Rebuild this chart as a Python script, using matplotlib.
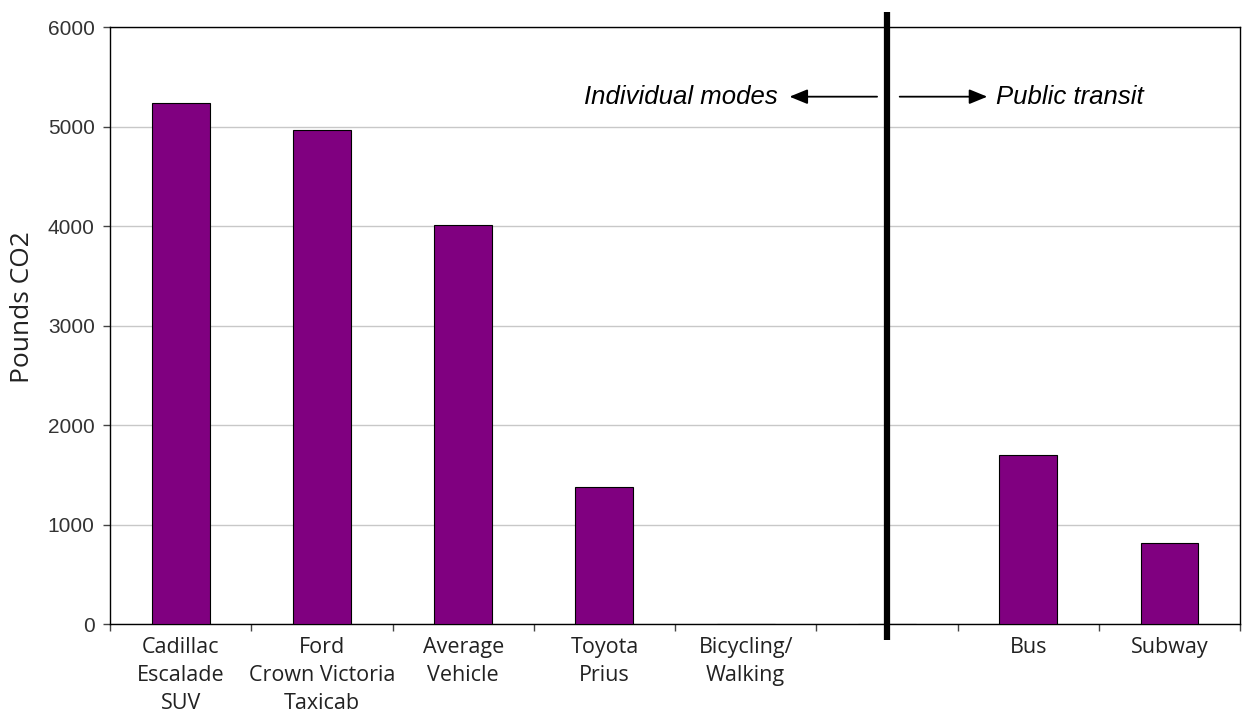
import matplotlib
matplotlib.use("Agg")
import matplotlib.pyplot as plt
import numpy as np
from matplotlib.transforms import blended_transform_factory

categories = ["Cadillac\nEscalade\nSUV", "Ford\nCrown Victoria\nTaxicab", "Average\nVehicle",
              "Toyota\nPrius", "Bicycling/\nWalking", "", "Bus", "Subway"]
values = [5240, 4970, 4010, 1380, 0, 0, 1700, 810]
yticks = [0, 1000, 2000, 3000, 4000, 5000, 6000]
divider_index = 5

fig = plt.figure(figsize=(12.46, 7.17), dpi=100)
ax = fig.add_axes([0.0883, 0.1297, 0.9070, 0.8326])

x = np.arange(len(categories))
ax.bar(x, values, width=0.41, color="#800080", edgecolor="black", linewidth=0.8, zorder=3)

ax.set_xlim(-0.5, len(categories) - 0.5)
ax.set_ylim(0, 6000)
ax.set_yticks(yticks)
ax.set_yticklabels([str(v) for v in yticks], family="Liberation Sans", fontsize=15, color="#333333")
ax.yaxis.grid(True, color="#c8c8c8", linewidth=1, zorder=0)
ax.set_axisbelow(True)

# category tick marks at boundaries
ax.set_xticks(np.arange(len(categories) + 1) - 0.5)
ax.set_xticklabels([])
ax.set_xticks(x, minor=True)
ax.set_xticklabels(categories, minor=True, family="Open Sans", fontsize=15.5, color="#222222",
                   linespacing=1.45)
ax.tick_params(axis="x", which="minor", length=0, pad=9)
ax.tick_params(axis="x", which="major", length=5, width=1, color="#444444")
ax.tick_params(axis="y", length=5, width=1, color="#444444", pad=6)

for s in ax.spines.values():
    s.set_color("black")
    s.set_linewidth(1)

ax.set_ylabel("Pounds CO2", family="Open Sans", fontsize=19, color="#222222")
ax.yaxis.set_label_coords(-0.066, 0.531)

# thick divider line
tr = blended_transform_factory(ax.transData, ax.transAxes)
ax.plot([divider_index, divider_index], [-0.027, 1.025], transform=tr, color="black",
        linewidth=4.5, clip_on=False, zorder=5, solid_capstyle="butt")

# arrows and labels
ya = 5300
arrow = dict(arrowstyle="-|>,head_length=1.1,head_width=0.45", color="black", lw=1.3,
             shrinkA=0, shrinkB=0)
ax.annotate("", xy=(4.31, ya), xytext=(4.93, ya), arrowprops=arrow)
ax.annotate("", xy=(5.71, ya), xytext=(5.09, ya), arrowprops=arrow)
ax.text(4.23, ya, "Individual modes", ha="right", va="center", family="Liberation Sans",
        style="italic", fontsize=18.5, color="black")
ax.text(5.77, ya, "Public transit", ha="left", va="center", family="Liberation Sans",
        style="italic", fontsize=18.5, color="black")

fig.savefig("out.png", dpi=100)
